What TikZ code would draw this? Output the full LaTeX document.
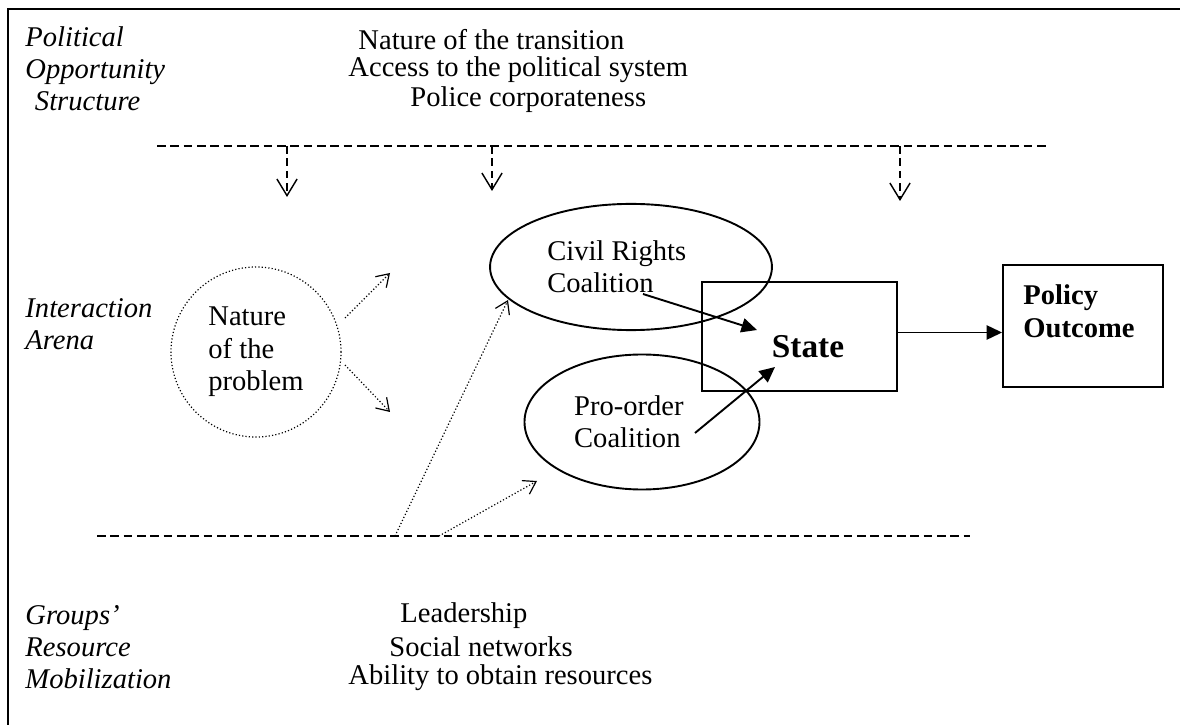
\documentclass[tikz,border=0pt]{standalone}
\usepackage{fontspec}
\setmainfont{Liberation Serif}
\usepackage{tikz}
\usetikzlibrary{shapes.geometric, arrows.meta}

\begin{document}
\begin{tikzpicture}[x=0.42pt, y=-0.42pt,
    font=\fontsize{12}{13.6}\selectfont]
      \tikzstyle{heading} = [
        anchor = west,
        align = left,
        inner sep = 0pt,
        font = \fontsize{12}{13.4}\selectfont\itshape
      ]

      \tikzstyle{factor} = [
        anchor = west,
        inner sep = 0pt
      ]

      \tikzstyle{coalition} = [
        ellipse,
        draw,
        line width = 0.8pt,
        align = left,
        inner sep = 0pt
      ]

      \tikzstyle{actor} = [
        rectangle,
        draw,
        line width = 0.8pt,
        inner sep = 0pt
      ]

      \tikzstyle{boundary} = [
        line width = 0.6pt,
        dash pattern = on 3.6pt off 2pt
      ]

      \tikzstyle{influence} = [
        line width = 0.6pt,
        dash pattern = on 3.2pt off 2pt,
        -{Straight Barb[length=7pt, width=8.5pt, line width=0.6pt]}
      ]

      \tikzstyle{spillover} = [
        line width = 0.5pt,
        dash pattern = on 0.5pt off 0.9pt,
        -{Straight Barb[length=5pt, width=6.5pt, line width=0.5pt]}
      ]

      \tikzstyle{pressure} = [
        line width = 0.8pt,
        -{Triangle[length=6.5pt, width=6pt]}
      ]

      \useasboundingbox (0,0) rectangle (1180,725);

      % frame, only top and left edges show
      \coordinate (frametl) at (8,9);
      \coordinate (frametr) at (1180,9);
      \coordinate (framebl) at (8,725);
      \draw[line width=0.8pt] (frametr) -- (frametl) -- (framebl);

      % upper band
      \node[heading] (pos) at (25,69)
      {Political\\Opportunity\\\hspace*{4pt}Structure};
      \node[factor] (transition) at (358,40) {Nature of the transition};
      \node[factor] (access) at (348,70) {Access to the political system};
      \node[factor] (police) at (410,100) {Police corporateness};

      \coordinate (topleft) at (157,146);
      \coordinate (topright) at (1048,146);
      \draw[boundary] (topleft) -- (topright);
      \coordinate (drop1) at (287,197);
      \coordinate (drop2) at (492,191);
      \coordinate (drop3) at (900,201);
      \draw[influence] (drop1 |- topleft) -- (drop1);
      \draw[influence] (drop2 |- topleft) -- (drop2);
      \draw[influence] (drop3 |- topleft) -- (drop3);

      % interaction arena
      \node[heading] (arena) at (25,324) {Interaction\\Arena};
      \node[circle, draw, line width=0.5pt, dash pattern=on 0.5pt off 0.9pt,
        minimum size=71.4pt, align=left, inner sep=0pt]
      (problem) at (256,352) {Nature\\of the\\problem};
      \coordinate (prob1) at (345,318);
      \coordinate (prob2) at (390,273);
      \coordinate (prob3) at (345,365);
      \coordinate (prob4) at (390,412);
      \draw[spillover] (prob1) -- (prob2);
      \draw[spillover] (prob3) -- (prob4);

      \node[coalition, minimum width=118.4pt, minimum height=53pt]
      (civil) at (631,267) {Civil Rights\hspace*{12pt}\\Coalition};
      \node[coalition, minimum width=98.7pt, minimum height=56.7pt]
      (proorder) at (642,422) {Pro-order\hspace*{11pt}\\Coalition};

      \node[actor, minimum width=81.9pt, minimum height=45.8pt]
      (state) at (799.5,336.5) {};
      \node[inner sep=0pt, font=\fontsize{14}{16}\selectfont\bfseries]
      (statetext) at (808,347) {State};
      \node[actor, minimum width=67.2pt, minimum height=51.2pt]
      (policy) at (1083,326) {};
      \node[inner sep=0pt, align=left, font=\fontsize{12}{13.8}\selectfont\bfseries]
      (policytext) at (1079,311) {Policy\\Outcome};

      \coordinate (crtail) at (643,294);
      \coordinate (crhead) at (757,330);
      \coordinate (potail) at (695,433);
      \coordinate (pohead) at (775,367);
      \draw[pressure] (crtail) -- (crhead);
      \draw[pressure] (potail) -- (pohead);
      \draw[pressure] (state.east) ++(0,-4) coordinate (out)
        -- (out -| policy.west);

      % lower band
      \coordinate (lowleft) at (97,536);
      \coordinate (lowright) at (970,536);
      \draw[boundary] (lowleft) -- (lowright);
      \coordinate (rise1) at (395,536);
      \coordinate (rise2) at (439,536);
      \coordinate (civilfoot) at (508,300);
      \coordinate (profoot) at (537,481);
      \draw[spillover] (rise1) -- (civilfoot);
      \draw[spillover] (rise2) -- (profoot);

      \node[heading] (mobil) at (25,647)
      {Groups'\\Resource\\Mobilization};
      \node[factor] (leader) at (400,616) {Leadership};
      \node[factor] (networks) at (389,647) {Social networks};
      \node[factor] (ability) at (348,678) {Ability to obtain resources};
    \end{tikzpicture}
\end{document}
